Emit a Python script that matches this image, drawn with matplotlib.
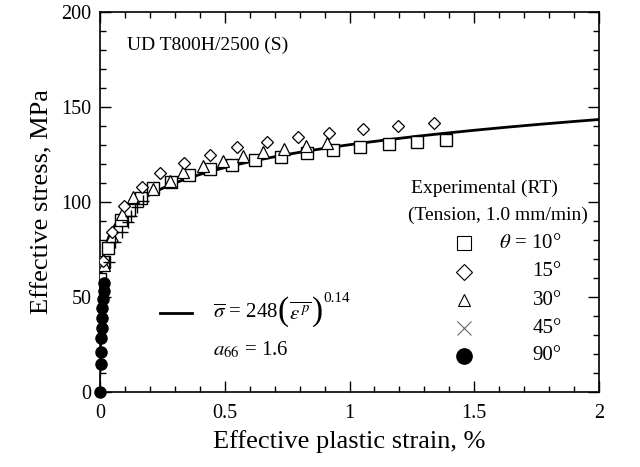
import numpy as np
import matplotlib
matplotlib.use("Agg")
import matplotlib.pyplot as plt
from matplotlib.ticker import MultipleLocator

plt.rcParams['font.family'] = ['Liberation Serif', 'DejaVu Serif']
plt.rcParams['mathtext.fontset'] = 'stix'

# ---- data (strain in %, stress in MPa) ----
sq_x = [0.0, 0.016, 0.031, 0.084, 0.117, 0.163, 0.214, 0.283, 0.357, 0.441, 0.528,
        0.621, 0.724, 0.828, 0.933, 1.042, 1.157, 1.269, 1.387]
sq_y = [59.5, 68.3, 75.9, 90.5, 95.8, 101.9, 107.2, 110.7, 114.2, 117.2, 119.5,
        122.1, 123.8, 125.6, 127.4, 129.1, 130.4, 131.6, 132.6]

di_x = [0.013, 0.047, 0.096, 0.167, 0.240, 0.338, 0.441, 0.548, 0.671, 0.792,
        0.919, 1.053, 1.196, 1.340]
di_y = [68.9, 84.1, 97.9, 108.1, 115.1, 120.7, 124.7, 129.1, 131.4, 134.4,
        136.5, 138.3, 140.0, 141.4]

tr_x = [0.016, 0.048, 0.088, 0.133, 0.211, 0.281, 0.334, 0.414, 0.492, 0.574,
        0.655, 0.737, 0.826, 0.909]
tr_y = [66.8, 82.1, 93.7, 102.8, 106.7, 111.2, 115.9, 119.1, 121.7, 124.2,
        126.2, 127.9, 129.5, 130.9]

cr_x = [0.037, 0.060, 0.087, 0.113, 0.123, 0.150, 0.174]
cr_y = [68.6, 79.1, 84.4, 89.6, 92.6, 97.5, 100.5]

ci_x = [0.0, 0.004, 0.005, 0.006, 0.007, 0.008, 0.010, 0.012, 0.015, 0.018]
ci_y = [0.0, 14.6, 21.2, 28.3, 33.5, 38.8, 44.1, 48.8, 53.3, 57.5]

# fitted curve parameters shown in the chart: sigma = 248 (eps_p)^0.14
K_fit = 248.0
n_fit = 0.14

legend_labels = [r'$\theta$ = 10°', '15°', '30°', '45°', '90°']
x_ticks = [0, 0.5, 1, 1.5, 2]
x_tick_labels = ['0', '0.5', '1', '1.5', '2']
y_ticks = [0, 50, 100, 150, 200]

fig = plt.figure(figsize=(6.4, 4.67), dpi=100)
ax = fig.add_axes([100/640, 1 - 392/467, 499/640, 380/467])

eps = np.concatenate([np.linspace(1e-6, 0.01, 200), np.linspace(0.01, 2.0, 400)])
sig = K_fit * (eps / 100.0) ** n_fit
ax.plot(eps, sig, color='black', lw=2.0, zorder=2)

ms = 8
ax.plot(sq_x, sq_y, ls='none', marker='s', ms=ms, mfc='white', mec='black', mew=1.0, zorder=3)
ax.plot(tr_x, tr_y, ls='none', marker='^', ms=ms, mfc='white', mec='black', mew=0.9, zorder=3)
ax.plot(di_x, di_y, ls='none', marker='D', ms=6, mfc='white', mec='black', mew=0.9, zorder=4)
ax.plot(cr_x, cr_y, ls='none', marker='+', ms=9, mec='black', mew=1.0, zorder=4)
ax.plot(ci_x, ci_y, ls='-', lw=0.8, color='black', marker='o', ms=8, mfc='black', mec='black',
        zorder=5, clip_on=False)

ax.set_xlim(0, 2)
ax.set_ylim(0, 200)
ax.set_xticks(x_ticks)
ax.set_xticklabels(x_tick_labels)
ax.set_yticks(y_ticks)
ax.xaxis.set_minor_locator(MultipleLocator(0.1))
ax.yaxis.set_minor_locator(MultipleLocator(10))
ax.tick_params(which='both', direction='in', top=True, right=True, labelsize=14.5, width=1.0)
ax.tick_params(which='major', length=8)
ax.tick_params(which='minor', length=4)
ax.tick_params(axis='x', pad=9)
ax.tick_params(axis='y', pad=6)
for s in ax.spines.values():
    s.set_linewidth(1.2)

ax.set_xlabel('Effective plastic strain, %', fontsize=19, labelpad=5)
ax.set_ylabel('Effective stress, MPa', fontsize=19, labelpad=6)

ax.text(0.054, 0.913, 'UD T800H/2500 (S)', transform=ax.transAxes, fontsize=14,
        ha='left', va='center')

# equation with line sample, built from pieces so the brackets can be large
ax.plot([0.120, 0.184], [0.208, 0.208], transform=ax.transAxes, color='black', lw=2.0)
fig.canvas.draw()
rend = fig.canvas.get_renderer()
inv = ax.transAxes.inverted()

def chain(prev, s, size, dy_px=0.0, gap_px=0.0, base_y=0.208):
    bb = prev.get_window_extent(rend)
    x_ax = inv.transform((bb.x1 + gap_px, 0))[0]
    y_ax = base_y + dy_px / ax.bbox.height
    t = ax.text(x_ax, y_ax, s, transform=ax.transAxes, fontsize=size,
                ha='left', va='center')
    return t

t1 = ax.text(0.226, 0.208, r'$\overline{\sigma}$ = 248', transform=ax.transAxes,
             fontsize=15, ha='left', va='center')
t2 = chain(t1, '(', 24, dy_px=1, gap_px=0)
t3 = chain(t2, r'$\overline{\varepsilon^{\,p}}$', 15, dy_px=0, gap_px=0)
t4 = chain(t3, ')', 24, dy_px=1, gap_px=0)
t5 = chain(t4, '0.14', 11, dy_px=14, gap_px=1)

ax.text(0.226, 0.111, r'$a_{66}$ = 1.6', transform=ax.transAxes, fontsize=15,
        ha='left', va='center')

# legend block
ax.text(0.771, 0.537, 'Experimental (RT)', transform=ax.transAxes, fontsize=14,
        ha='center', va='center')
ax.text(0.798, 0.466, '(Tension, 1.0 mm/min)', transform=ax.transAxes, fontsize=14,
        ha='center', va='center')
leg_y = [0.392, 0.316, 0.242, 0.168, 0.095]
leg_mk = [dict(marker='s', ms=10, mfc='white', mec='black', mew=0.8),
          dict(marker='D', ms=8, mfc='white', mec='black', mew=0.8),
          dict(marker='^', ms=8, mfc='white', mec='black', mew=0.8),
          dict(marker='x', ms=10, mec='#666666', mew=0.8),
          dict(marker='o', ms=11, mfc='black', mec='black')]
for yy, mk, lab in zip(leg_y, leg_mk, legend_labels):
    ax.plot([0.730], [yy], transform=ax.transAxes, ls='none', clip_on=False, **mk)
    ax.text(0.925, yy, lab, transform=ax.transAxes, fontsize=15, ha='right', va='center')

fig.savefig('out.png', dpi=100)
